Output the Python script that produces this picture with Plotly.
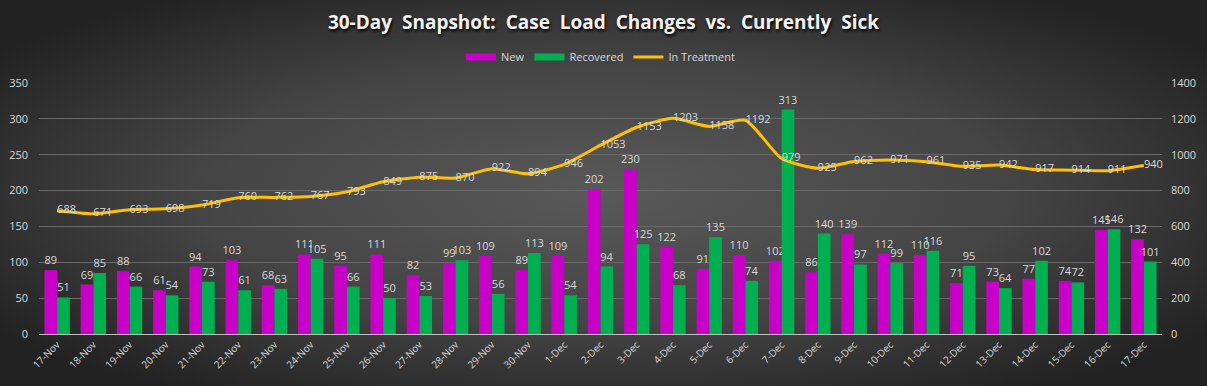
import base64
import plotly.graph_objects as go

dates = ["17-Nov", "18-Nov", "19-Nov", "20-Nov", "21-Nov", "22-Nov", "23-Nov", "24-Nov",
         "25-Nov", "26-Nov", "27-Nov", "28-Nov", "29-Nov", "30-Nov", "1-Dec", "2-Dec",
         "3-Dec", "4-Dec", "5-Dec", "6-Dec", "7-Dec", "8-Dec", "9-Dec", "10-Dec",
         "11-Dec", "12-Dec", "13-Dec", "14-Dec", "15-Dec", "16-Dec", "17-Dec"]
new_cases = [89, 69, 88, 61, 94, 103, 68, 111, 95, 111, 82, 99, 109, 89, 109, 202,
             230, 122, 91, 110, 102, 86, 139, 112, 110, 71, 73, 77, 74, 145, 132]
recovered = [51, 85, 66, 54, 73, 61, 63, 105, 66, 50, 53, 103, 56, 113, 54, 94,
             125, 68, 135, 74, 313, 140, 97, 99, 116, 95, 64, 102, 72, 146, 101]
in_treatment = [688, 671, 693, 698, 719, 760, 762, 767, 793, 849, 875, 870, 922, 894,
                946, 1053, 1153, 1203, 1158, 1192, 979, 925, 962, 971, 961, 935, 942,
                917, 914, 911, 940]

W, H = 1207, 386
ML, MR, MT, MB = 39, 45, 83, 52
PW, PH = W - ML - MR, H - MT - MB

svg = (f'<svg xmlns="http://www.w3.org/2000/svg" width="{W}" height="{H}">'
       '<defs><radialGradient id="g" cx="50%" cy="50%" r="62%">'
       '<stop offset="0" stop-color="#595959"/><stop offset="0.55" stop-color="#444444"/>'
       '<stop offset="1" stop-color="#222222"/></radialGradient></defs>'
       f'<rect width="{W}" height="{H}" fill="url(#g)"/></svg>')
bg = "data:image/svg+xml;base64," + base64.b64encode(svg.encode()).decode()

LBL = "#d9d9d9"
FONT = "Open Sans"
MAGENTA, GREEN, GOLD = "#C800C8", "#00B050", "#FFC000"

fig = go.Figure()
fig.add_trace(go.Bar(
    x=dates, y=new_cases, name="New", marker_color=MAGENTA, marker_line_width=0,
    text=new_cases, textposition="outside", constraintext="none",
    textfont=dict(color=LBL, size=11, family=FONT),
    cliponaxis=False, yaxis="y", showlegend=False))
fig.add_trace(go.Bar(
    x=dates, y=recovered, name="Recovered", marker_color=GREEN, marker_line_width=0,
    text=recovered, textposition="outside", constraintext="none",
    textfont=dict(color=LBL, size=11, family=FONT),
    cliponaxis=False, yaxis="y", showlegend=False))
fig.add_trace(go.Scatter(
    x=dates, y=in_treatment, name="In Treatment", mode="lines+text",
    line=dict(color=GOLD, width=3, shape="spline", smoothing=0.6),
    text=in_treatment, textposition="middle right",
    textfont=dict(color=LBL, size=11, family=FONT), cliponaxis=False, yaxis="y2",
    showlegend=False))

# legend entries (swatches like the original)
for nm, col, w in [("New", MAGENTA, 7), ("Recovered", GREEN, 7), ("In Treatment", GOLD, 3)]:
    fig.add_trace(go.Scatter(x=[None], y=[None], mode="lines", name=nm,
                             line=dict(color=col, width=w), showlegend=True))

fig.update_layout(
    width=W, height=H,
    margin=dict(l=ML, r=MR, t=MT, b=MB, autoexpand=False),
    paper_bgcolor="#333333", plot_bgcolor="rgba(0,0,0,0)",
    font=dict(family=FONT, color=LBL, size=11),
    barmode="group", bargap=0.3, bargroupgap=0,
    title=dict(text="<b>30-Day\u00a0 Snapshot:\u00a0 Case\u00a0 Load\u00a0 Changes\u00a0 vs.\u00a0 Currently\u00a0 Sick</b>",
               x=0.5, xanchor="center", y=1 - 22 / H, yanchor="middle",
               font=dict(size=19, color="#f2f2f2", family=FONT,
                         shadow="1px 2px 3px #000000")),
    legend=dict(orientation="h", x=0.5, xanchor="center", y=1 + 26 / PH, yanchor="middle",
                font=dict(size=11, color=LBL, family=FONT), bgcolor="rgba(0,0,0,0)",
                itemwidth=30, traceorder="normal"),
    xaxis=dict(tickangle=-45, tickfont=dict(size=10, color=LBL), showgrid=False,
               range=[-0.5, len(dates) - 0.5],
               showline=True, linecolor="#bfbfbf", linewidth=1, ticks="", automargin=False),
    yaxis=dict(range=[0, 350], dtick=50, gridcolor="#696969", gridwidth=1,
               zeroline=False, tickfont=dict(size=11, color=LBL), ticks="",
               ticklabelstandoff=10, automargin=False),
    yaxis2=dict(range=[0, 1400], dtick=200, overlaying="y", side="right",
                showgrid=False, zeroline=False, tickfont=dict(size=11, color=LBL), ticks="",
                ticklabelstandoff=8, automargin=False),
    images=[dict(source=bg, xref="paper", yref="paper", x=-ML / PW, y=1 + MT / PH,
                 sizex=W / PW, sizey=H / PH, xanchor="left", yanchor="top",
                 sizing="stretch", layer="below")],
)

fig.write_html("out.html", config={"displayModeBar": False},
               post_script="document.body.style.margin='0';")
